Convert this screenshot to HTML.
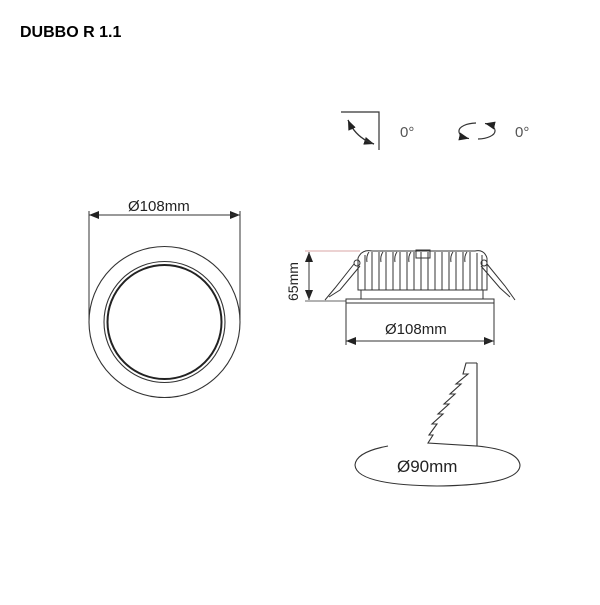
<!DOCTYPE html>
<html><head><style>
body{margin:0;background:#fff;width:600px;height:600px;overflow:hidden}
</style></head><body>
<svg width="600" height="600" viewBox="0 0 600 600" xmlns="http://www.w3.org/2000/svg" font-family="Liberation Sans, sans-serif">
<defs><marker id="a" markerWidth="10" markerHeight="8" refX="10" refY="4" orient="auto" markerUnits="userSpaceOnUse"><path d="M0,0 L10,4 L0,8Z" fill="#222"/></marker></defs>
<text x="20" y="37" font-size="16" font-weight="bold" fill="#000">DUBBO R 1.1</text>
<!-- tilt icon -->
<path d="M341,112 H379 V150" fill="none" stroke="#333" stroke-width="1.2"/>
<path d="M348,120 Q356,138 374,144" fill="none" stroke="#333" stroke-width="1.2" marker-end="url(#a)"/>
<path d="M374,144 Q356,138 348,120" fill="none" stroke="#333" stroke-width="1.2" marker-end="url(#a)"/>
<text x="400" y="137" font-size="15" fill="#555">0°</text>
<!-- rotate icon -->
<path d="M476,123 A18,8 0 0 0 459,131 A18,8 0 0 0 469,138.6" fill="none" stroke="#333" stroke-width="1.2" marker-end="url(#a)"/>
<path d="M478,139 A18,8 0 0 0 495,131 A18,8 0 0 0 485,123.4" fill="none" stroke="#333" stroke-width="1.2" marker-end="url(#a)"/>
<text x="515" y="137" font-size="15" fill="#555">0°</text>
<!-- front view -->
<text x="128" y="211" font-size="15" fill="#222">Ø108mm</text>
<line x1="89" y1="215" x2="240" y2="215" stroke="#333" marker-end="url(#a)"/>
<line x1="240" y1="215" x2="89" y2="215" stroke="#333" marker-end="url(#a)"/>
<line x1="89" y1="211" x2="89" y2="320" stroke="#333"/>
<line x1="240" y1="211" x2="240" y2="320" stroke="#333"/>
<circle cx="164.5" cy="322" r="75.5" fill="none" stroke="#333" stroke-width="1.1"/>
<circle cx="164.5" cy="322" r="60.5" fill="none" stroke="#333" stroke-width="1.1"/>
<circle cx="164.5" cy="322" r="57" fill="none" stroke="#222" stroke-width="2"/>
<!-- side view -->
<line x1="305" y1="251" x2="360" y2="251" stroke="#c88" stroke-width="0.8"/>
<line x1="305" y1="301" x2="346" y2="301" stroke="#333" stroke-width="0.8"/>
<line x1="309" y1="252" x2="309" y2="300" stroke="#333" marker-end="url(#a)"/>
<line x1="309" y1="300" x2="309" y2="252" stroke="#333" marker-end="url(#a)"/>
<text x="298" y="301" font-size="14" fill="#222" transform="rotate(-90 298 301)">65mm</text>
<g stroke="#333" stroke-width="1" fill="none">
<path d="M358,258 Q362,249 372,251 H475 Q484,249 487,258"/>
<path d="M358,258 V290 H487 V258"/>
<path d="M365,255V290M372,252V290M379,252V290M386,252V290M393,252V290M400,252V290M407,252V290M414,252V290M421,252V290M428,252V290M435,252V290M442,252V290M449,252V290M456,252V290M463,252V290M470,252V290M477,253V290M482,255V290"/>
<path d="M369,252 Q366,256 367,262M383,252 Q380,256 381,262M397,252 Q394,256 395,262M411,252 Q408,256 409,262M453,252 Q450,256 451,262M467,252 Q464,256 465,262"/>
<rect x="416" y="250" width="14" height="8"/>
<path d="M361,290V299M483,290V299"/>
<rect x="346" y="299" width="148" height="4"/>
<circle cx="357" cy="263" r="3"/><circle cx="484" cy="263" r="3"/>
<path d="M354,264 L335,288 L325,300 M360,266 L340,290 L329,297"/>
<path d="M487,264 L505,286 L515,300 M481,266 L500,288 L510,297"/>
<line x1="346" y1="303" x2="346" y2="345"/><line x1="494" y1="303" x2="494" y2="345"/>
</g>
<line x1="346" y1="341" x2="494" y2="341" stroke="#333" marker-end="url(#a)"/>
<line x1="494" y1="341" x2="346" y2="341" stroke="#333" marker-end="url(#a)"/>
<text x="385" y="334" font-size="15" fill="#222">Ø108mm</text>
<!-- cutout -->
<g stroke="#333" stroke-width="1.1" fill="none">
<path d="M477,363 H466 L463,374 H468 L456,384 H461 L450,394 H455 L444,404 H449 L438,414 H443 L432,424 H437 L429,435 H433 L428,443 L477,446 V363"/>
<path d="M388,446 Q356,452 355,465 Q356,485 437,486 Q520,485 520,465 Q518,450 477,446"/>
</g>
<text x="397" y="472" font-size="17" fill="#222">Ø90mm</text>
</svg>
</body></html>
